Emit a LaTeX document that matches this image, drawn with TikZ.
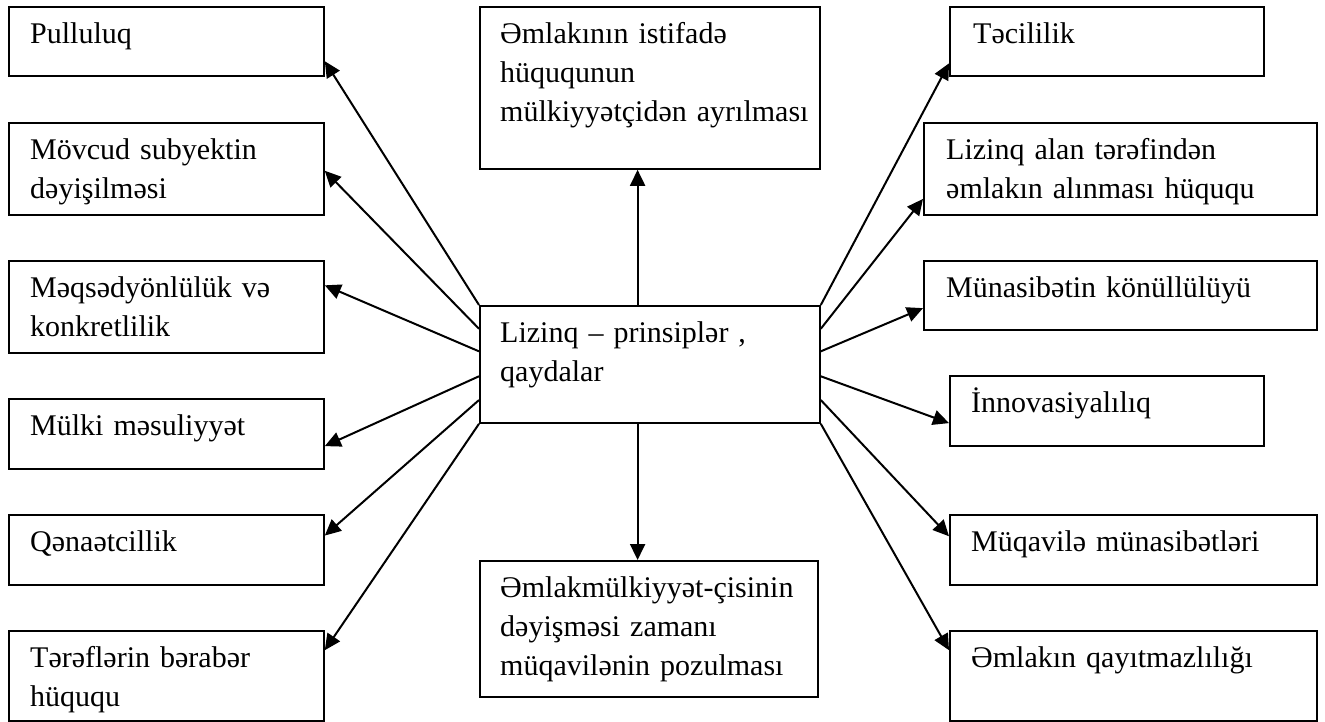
\documentclass[tikz,border=0pt]{standalone}
\usepackage{fontspec}
\setmainfont{Liberation Serif}
\usetikzlibrary{arrows.meta,calc}
\begin{document}
\begin{tikzpicture}[x=1pt,y=-1pt,
  box/.style={draw, line width=1.8pt, anchor=north west, inner sep=0pt},
  lbl/.style={anchor=north west, inner xsep=22pt, inner ysep=9.7pt, text width=400pt,
              align=left, font=\fontsize{30}{39}\selectfont},
  link/.style={line width=2pt, -{Triangle[length=16pt,width=15pt]}}]
\useasboundingbox (0,0) rectangle (1325,721);

% left column
\node[box, minimum width=315pt, minimum height=69pt] (l1) at (8,6) {};
\node[lbl] (tl1) at (l1.north west) {\strut Pulluluq};
\node[box, minimum width=315pt, minimum height=92pt] (l2) at (8,122) {};
\node[lbl] (tl2) at (l2.north west) {\strut Mövcud subyektin\\dəyişilməsi};
\node[box, minimum width=315pt, minimum height=92pt] (l3) at (8,260) {};
\node[lbl] (tl3) at (l3.north west) {\strut Məqsədyönlülük və\\konkretlilik};
\node[box, minimum width=315pt, minimum height=70pt] (l4) at (8,398) {};
\node[lbl] (tl4) at (l4.north west) {\strut Mülki məsuliyyət};
\node[box, minimum width=315pt, minimum height=70pt] (l5) at (8,514) {};
\node[lbl] (tl5) at (l5.north west) {\strut Qənaətcillik};
\node[box, minimum width=315pt, minimum height=90pt] (l6) at (8,630) {};
\node[lbl] (tl6) at (l6.north west) {\strut Tərəflərin bərabər\\hüququ};

% middle column
\node[box, minimum width=340pt, minimum height=162pt] (top) at (479,6) {};
\node[lbl, inner xsep=21pt] (ttop) at (top.north west) {\strut Əmlakının istifadə\\hüququnun\\mülkiyyətçidən ayrılması};
\node[box, minimum width=340pt, minimum height=117pt] (c) at (479,305) {};
\node[lbl, inner xsep=21pt] (tc) at (c.north west) {\strut Lizinq – prinsiplər ,\\qaydalar};
\node[box, minimum width=338pt, minimum height=136pt] (bot) at (479,560) {};
\node[lbl, inner xsep=21pt] (tbot) at (bot.north west) {\strut Əmlakmülkiyyət-çisinin\\dəyişməsi zamanı\\müqavilənin pozulması};

% right column
\node[box, minimum width=314pt, minimum height=69pt] (r1) at (949,6) {};
\node[lbl, inner xsep=24pt] (tr1) at (r1.north west) {\strut Təcililik};
\node[box, minimum width=393pt, minimum height=92pt] (r2) at (923,122) {};
\node[lbl, inner xsep=23pt] (tr2) at (r2.north west) {\strut Lizinq alan tərəfindən\\əmlakın alınması hüququ};
\node[box, minimum width=393pt, minimum height=69pt] (r3) at (923,260) {};
\node[lbl, inner xsep=23pt] (tr3) at (r3.north west) {\strut Münasibətin könüllülüyü};
\node[box, minimum width=314pt, minimum height=70pt] (r4) at (949,375) {};
\node[lbl] (tr4) at (r4.north west) {\strut İnnovasiyalılıq};
\node[box, minimum width=367pt, minimum height=70pt] (r5) at (949,514) {};
\node[lbl] (tr5) at (r5.north west) {\strut Müqavilə münasibətləri};
\node[box, minimum width=367pt, minimum height=90pt] (r6) at (949,630) {};
\node[lbl] (tr6) at (r6.north west) {\strut Əmlakın qayıtmazlılığı};

% arrows to the left column
\draw[link] (c.north west) -- ($(l1.north east)!0.78!(l1.south east)$);
\draw[link] ($(c.north west)!0.2!(c.south west)$) -- ($(l2.north east)!0.52!(l2.south east)$);
\draw[link] ($(c.north west)!0.39!(c.south west)$) -- ($(l3.north east)!0.27!(l3.south east)$);
\draw[link] ($(c.north west)!0.6!(c.south west)$) -- ($(l4.north east)!0.67!(l4.south east)$);
\draw[link] ($(c.north west)!0.8!(c.south west)$) -- ($(l5.north east)!0.3!(l5.south east)$);
\draw[link] (c.south west) -- ($(l6.north east)!0.22!(l6.south east)$);

% arrows to the right column
\draw[link] (c.north east) -- ($(r1.north west)!0.81!(r1.south west)$);
\draw[link] ($(c.north east)!0.2!(c.south east)$) -- ($(r2.north west)!0.82!(r2.south west)$);
\draw[link] ($(c.north east)!0.39!(c.south east)$) -- ($(r3.north west)!0.68!(r3.south west)$);
\draw[link] ($(c.north east)!0.6!(c.south east)$) -- ($(r4.north west)!0.67!(r4.south west)$);
\draw[link] ($(c.north east)!0.8!(c.south east)$) -- ($(r5.north west)!0.31!(r5.south west)$);
\draw[link] (c.south east) -- ($(r6.north west)!0.22!(r6.south west)$);

% vertical arrows
\coordinate (cu) at ($(c.north west)!0.464!(c.north east)$);
\coordinate (cd) at ($(c.south west)!0.464!(c.south east)$);
\draw[link] (cu) -- (cu |- top.south);
\draw[link] (cd) -- (cd |- bot.north);
\end{tikzpicture}
\end{document}
